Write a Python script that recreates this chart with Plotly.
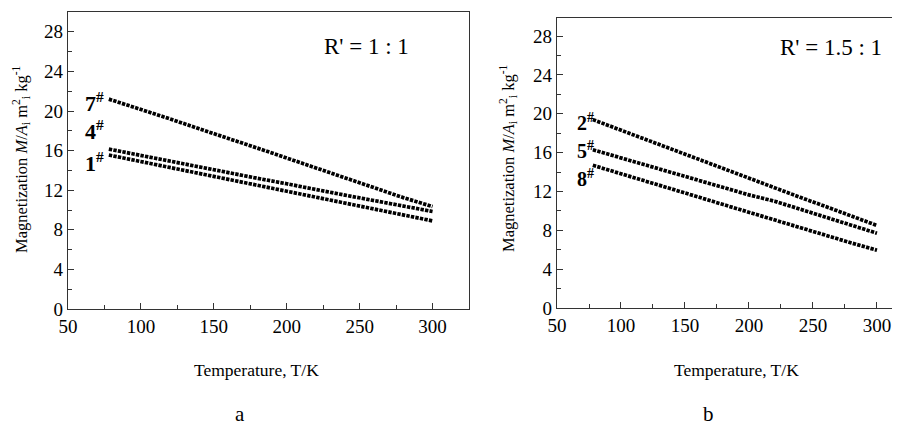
import plotly.graph_objects as go

# ---- data ----
temps = [78, 100, 120, 140, 160, 180, 200, 220, 240, 260, 280, 300]

# panel a, R' = 1 : 1
s7 = [21.2, 20.2, 19.2, 18.2, 17.25, 16.25, 15.25, 14.25, 13.2, 12.2, 11.25, 10.35]
s4 = [16.15, 15.5, 14.95, 14.35, 13.8, 13.2, 12.65, 12.05, 11.5, 10.95, 10.4, 9.85]
s1 = [15.55, 14.9, 14.3, 13.7, 13.1, 12.5, 11.9, 11.3, 10.7, 10.1, 9.5, 8.9]

# panel b, R' = 1.5 : 1
s2 = [19.4, 18.3, 17.35, 16.35, 15.35, 14.35, 13.4, 12.4, 11.4, 10.45, 9.45, 8.5]
s5 = [16.3, 15.45, 14.7, 13.9, 13.1, 12.35, 11.65, 11.0, 10.15, 9.35, 8.55, 7.7]
s8 = [14.7, 13.85, 13.05, 12.25, 11.45, 10.65, 9.85, 9.1, 8.3, 7.5, 6.7, 5.95]

labels_a = ["7", "4", "1"]
labels_b = ["2", "5", "8"]

xticks = [50, 100, 150, 200, 250, 300]
yticks = [0, 4, 8, 12, 16, 20, 24, 28]

FONT = "'Liberation Serif', 'Times New Roman', 'DejaVu Serif', serif"
OFF = 8  # page body margin
W, H = 900 - OFF, 427 - OFF

fig = go.Figure()

line_style = dict(color="black", width=3.7, dash="3.4px,1.2px")

for ys, name in zip([s7, s4, s1], labels_a):
    fig.add_trace(go.Scatter(x=temps, y=ys, mode="lines", line=line_style,
                             name=name + "#", xaxis="x", yaxis="y", showlegend=False))
for ys, name in zip([s2, s5, s8], labels_b):
    fig.add_trace(go.Scatter(x=temps, y=ys, mode="lines", line=line_style,
                             name=name + "#", xaxis="x2", yaxis="y2", showlegend=False))

def px2paper_x(px):
    return min(1.0, max(0.0, (px - OFF) / W))

def px2paper_y(py):
    return min(1.0, max(0.0, 1 - (py - OFF) / H))

axis_common = dict(
    showgrid=False, zeroline=False, showline=True, linecolor="#333",
    linewidth=1.3, ticks="inside", ticklen=6, tickwidth=1.2, tickcolor="#333",
    automargin=False,
    tickfont=dict(family=FONT, size=19, color="black"),
)

fig.update_layout(
    width=W, height=H,
    margin=dict(l=0, r=0, t=0, b=0),
    paper_bgcolor="white", plot_bgcolor="white",
    font=dict(family=FONT, color="black"),
    xaxis=dict(domain=[px2paper_x(68), px2paper_x(469)], range=[50, 325],
               tickvals=xticks, mirror=True, anchor="y",
               minor=dict(ticks="inside", ticklen=4, dtick=25, tick0=50, tickcolor="#333"),
               **axis_common),
    yaxis=dict(domain=[px2paper_y(309), px2paper_y(12)], range=[0, 30],
               tickvals=yticks, mirror=True, anchor="x",
               minor=dict(ticks="inside", ticklen=4, dtick=2, tick0=0, tickcolor="#333"),
               **axis_common),
    xaxis2=dict(domain=[px2paper_x(557), 1.0], range=[50, 318],
                tickvals=xticks, mirror=True, anchor="y2",
                minor=dict(ticks="inside", ticklen=4, dtick=25, tick0=50, tickcolor="#333"),
                **axis_common),
    yaxis2=dict(domain=[px2paper_y(308), px2paper_y(17.7)], range=[0, 29.9],
                tickvals=yticks, mirror=False, anchor="x2",
                minor=dict(ticks="inside", ticklen=4, dtick=2, tick0=0, tickcolor="#333"),
                **axis_common),
)

ann = []
ytitle = "Magnetization <i>M</i>/<i>A</i><sub>i</sub> m<sup>2</sup><sub>i</sub> kg<sup>-1</sup>"
for xc, yc in [(21, 159), (508, 158)]:
    ann.append(dict(text=ytitle, x=px2paper_x(xc), y=px2paper_y(yc), xref="paper", yref="paper",
                    textangle=-90, showarrow=False, xanchor="center", yanchor="middle",
                    font=dict(family=FONT, size=16.5, color="black")))
for xc, yc in [(256, 370), (736, 370)]:
    ann.append(dict(text="Temperature, T/K", x=px2paper_x(xc), y=px2paper_y(yc), xref="paper",
                    yref="paper", showarrow=False, xanchor="center", yanchor="middle",
                    font=dict(family=FONT, size=17.5, color="black")))
for txt, xc in [("a", 240), ("b", 708)]:
    ann.append(dict(text=txt, x=px2paper_x(xc), y=px2paper_y(414), xref="paper", yref="paper",
                    showarrow=False, xanchor="center", yanchor="middle",
                    font=dict(family=FONT, size=21, color="black")))
ann.append(dict(text="R' = 1 : 1", x=px2paper_x(366), y=px2paper_y(46), xref="paper", yref="paper",
                showarrow=False, xanchor="center", yanchor="middle",
                font=dict(family=FONT, size=23, color="black")))
ann.append(dict(text="R' = 1.5 : 1", x=px2paper_x(831), y=px2paper_y(48), xref="paper", yref="paper",
                showarrow=False, xanchor="center", yanchor="middle",
                font=dict(family=FONT, size=23, color="black")))

for lab, yv in zip(labels_a, [20.9, 18.1, 14.8]):
    ann.append(dict(text="<b>" + lab + "<sup>#</sup></b>", x=68.5, y=yv, xref="x", yref="y",
                    showarrow=False, xanchor="center", yanchor="middle",
                    font=dict(family=FONT, size=22, color="black")))
for lab, yv in zip(labels_b, [19.2, 16.3, 13.4]):
    ann.append(dict(text="<b>" + lab + "<sup>#</sup></b>", x=72, y=yv, xref="x2", yref="y2",
                    showarrow=False, xanchor="center", yanchor="middle",
                    font=dict(family=FONT, size=20, color="black")))

fig.update_layout(annotations=ann)

fig.write_html("out.html")
